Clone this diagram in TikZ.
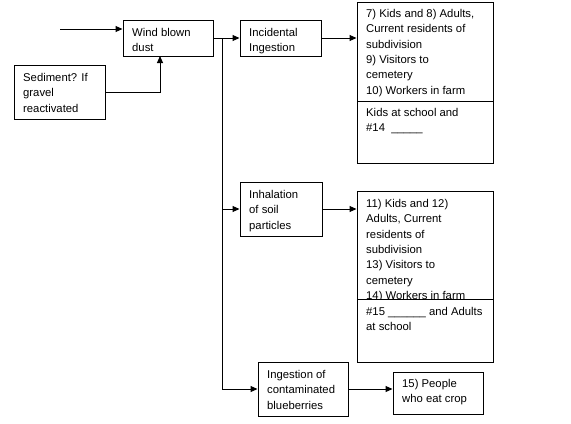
\documentclass[tikz,border=0pt]{standalone}
\usepackage{fontspec}
\setmainfont{Liberation Sans}
\usetikzlibrary{arrows.meta,calc}
\newcommand{\fs}{\fontsize{11.3bp}{15.4bp}\selectfont}
\newcommand{\tb}{\rule{0pt}{10bp}}
\begin{document}
\begin{tikzpicture}[x=1bp,y=-1bp,
  box/.style={draw,line width=1bp,inner sep=0pt},
  txt/.style={anchor=north west,inner sep=0pt,align=left,font=\fs},
  arr/.style={line width=1bp,-{Triangle[length=7bp,width=6bp]}},
  ln/.style={line width=1bp}]
\useasboundingbox (0,0) rectangle (571,423);
% boxes
\node[box,minimum width=90bp,minimum height=36bp] (wind) at (168,38) {};
\node[box,minimum width=90bp,minimum height=54bp] (sed) at (60,92) {};
\node[box,minimum width=81bp,minimum height=36bp] (inc) at (280.5,38) {};
\node[box,minimum width=136bp,minimum height=161bp] (r1) at (425,82.5) {};
\node[box,minimum width=82bp,minimum height=54bp] (inh) at (281,209) {};
\node[box,minimum width=136bp,minimum height=171bp] (r2) at (425,276.5) {};
\node[box,minimum width=90bp,minimum height=54bp] (blue) at (303,389) {};
\node[box,minimum width=90bp,minimum height=42bp] (ppl) at (438,393) {};
% dividers
\coordinate (d1a) at (357,101); \coordinate (d1b) at (493,101);
\coordinate (d2a) at (357,299); \coordinate (d2b) at (493,299);
\draw[ln] (d1a) -- (d1b);
\draw[ln] (d2a) -- (d2b);
% texts
\node[txt] (windt) at (132,26) {\tb Wind blown\\dust};
\node[txt] (sedt) at (23,71) {\tb Sediment? If\\gravel\\reactivated};
\node[txt] (inct) at (249,26) {\tb Incidental\\Ingestion};
\node[txt] (r1t) at (366,7) {\tb 7) Kids and 8) Adults,\\Current residents of\\subdivision\\9) Visitors to\\cemetery\\10) Workers in farm};
\node[txt] (r1b) at (366,106) {\tb Kids at school and\\\#14~~\_\_\_\_\_};
\node[txt] (inht) at (249,188) {\tb Inhalation\\of soil\\particles};
\begin{scope}
\clip (357,191) rectangle (493,298.5);
\node[txt] (r2t) at (366,197) {\tb 11) Kids and 12)\\Adults, Current\\residents of\\subdivision\\13) Visitors to\\cemetery\\14) Workers in farm};
\end{scope}
\node[txt] (r2b) at (366,305) {\tb \#15 \_\_\_\_\_\_ and Adults\\at school};
\node[txt] (bluet) at (267,368) {\tb Ingestion of\\contaminated\\blueberries};
\node[txt] (pplt) at (402,377) {\tb 15) People\\who eat crop};
% connectors
\coordinate (in) at (60,29);
\draw[arr] (in) -- (in -| wind.west);
\coordinate (wj) at (160,56);
\draw[arr] (sed.east) -| (wj);
\draw[arr] (wind.east) -- (inc.west);
\coordinate (tr) at (222,38);
\draw[arr] (tr) |- (blue.west);
\draw[arr] (tr |- inh.west) -- (inh.west);
\draw[arr] (inc.east) -- (inc.east -| r1.west);
\draw[arr] (inh.east) -- (inh.east -| r2.west);
\draw[arr] (blue.east) -- (blue.east -| ppl.west);
\end{tikzpicture}
\end{document}
